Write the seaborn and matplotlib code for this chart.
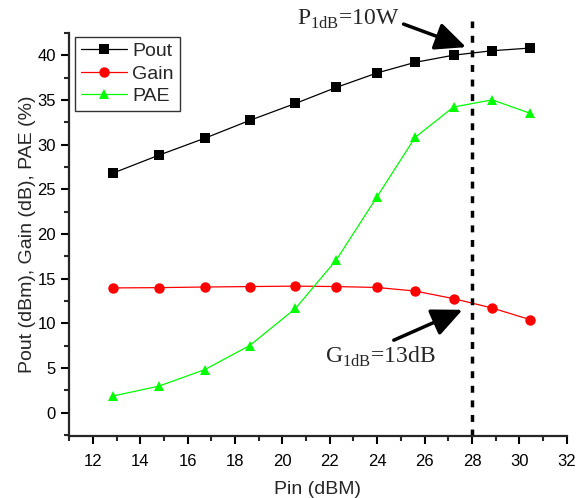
import numpy as np
import pandas as pd
import matplotlib
matplotlib.use("Agg")
import matplotlib.pyplot as plt
from matplotlib.ticker import MultipleLocator
import seaborn as sns

# ------------------------------------------
# Data
# ------------------------------------------

pin = [12.85, 14.78, 16.72, 18.62, 20.55, 22.28, 23.98, 25.6, 27.22, 28.85, 30.45]
pout = [26.8, 28.8, 30.7, 32.7, 34.6, 36.4, 38.0, 39.2, 40.0, 40.5, 40.8]
gain = [13.95, 13.98, 14.05, 14.1, 14.15, 14.1, 14.0, 13.6, 12.75, 11.7, 10.4]
pae = [1.85, 2.95, 4.8, 7.5, 11.65, 17.1, 24.1, 30.8, 34.2, 35.0, 33.5]

series = ["Pout", "Gain", "PAE"]
colors = ["black", "red", "#00ff00"]
markers = ["s", "o", "^"]

df = pd.DataFrame({"pin": pin, "Pout": pout, "Gain": gain, "PAE": pae})
long_df = df.melt(id_vars="pin", var_name="series", value_name="value")

# ------------------------------------------
# Plot
# ------------------------------------------

sns.set_style("ticks")
plt.rcParams["font.family"] = ["Liberation Sans", "DejaVu Sans"]

fig = plt.figure(figsize=(5.76, 4.98), dpi=100)
ax = fig.add_axes([0.12, 0.125, 0.864, 0.809])

sns.lineplot(
    data=long_df,
    x="pin",
    y="value",
    hue="series",
    style="series",
    hue_order=series,
    style_order=series,
    palette=colors,
    markers=dict(zip(series, markers)),
    dashes=False,
    markersize=7.5,
    markeredgewidth=0,
    linewidth=0.9,
    ax=ax,
)

ax.set_xlim(11, 32)
ax.set_ylim(-2.6, 42.5)
ax.xaxis.set_major_locator(MultipleLocator(2))
ax.xaxis.set_minor_locator(MultipleLocator(1))
ax.yaxis.set_major_locator(MultipleLocator(5))
ax.yaxis.set_minor_locator(MultipleLocator(2.5))
ax.tick_params(which="major", direction="out", length=6, width=1.5, pad=3.5,
               labelsize=12, colors="black")
ax.tick_params(axis="x", which="major", pad=7)
ax.tick_params(which="minor", direction="out", length=3.5, width=1.5)

for side in ["top", "right"]:
    ax.spines[side].set_visible(False)
for side in ["left", "bottom"]:
    ax.spines[side].set_linewidth(1.6)

ax.set_xlabel("Pin (dBM)", fontsize=14, labelpad=9)
ax.set_ylabel("Pout (dBm), Gain (dB), PAE (%)", fontsize=14, labelpad=1)

# dotted P1dB marker line
ax.plot([28, 28], [-2.6, 43.8], color="black", linestyle=(0, (2, 2.2)), linewidth=2.5, clip_on=False)

# annotations
ax.annotate(
    "P$_{\\mathregular{1dB}}$=10W",
    xy=(27.75, 40.9), xytext=(20.6, 44.0),
    fontsize=17, family="Liberation Serif", va="center",
    arrowprops=dict(arrowstyle="-|>,head_length=1.1,head_width=0.5", color="black", lw=2.5,
                    shrinkA=0, shrinkB=0, relpos=(1.04, 0.3)),
    annotation_clip=False,
)
ax.annotate(
    "G$_{\\mathregular{1dB}}$=13dB",
    xy=(27.6, 11.5), xytext=(21.8, 6.2),
    fontsize=17, family="Liberation Serif", va="center",
    arrowprops=dict(arrowstyle="-|>,head_length=1.1,head_width=0.5", color="black", lw=2.5,
                    shrinkA=0, shrinkB=0, relpos=(0.62, 1.2)),
)

leg = ax.legend(
    loc="upper left",
    bbox_to_anchor=(0.004, 1.0),
    fontsize=14,
    frameon=True,
    fancybox=False,
    edgecolor="black",
    handlelength=2.4,
    borderpad=0.3,
    labelspacing=0.25,
    handletextpad=0.25,
    borderaxespad=0.2,
    title=None,
)
leg.get_frame().set_linewidth(1.0)

fig.savefig("out.png", dpi=100)
